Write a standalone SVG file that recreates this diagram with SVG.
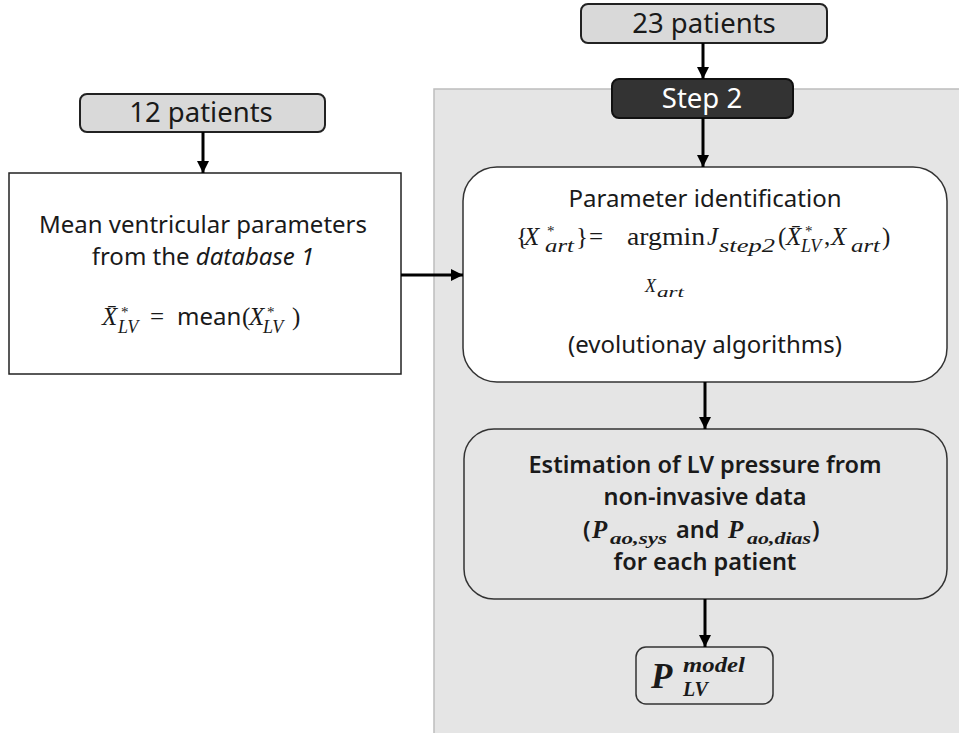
<svg xmlns="http://www.w3.org/2000/svg" width="959" height="733" viewBox="0 0 959 733">
<defs>
<style>
.t{font-family:"Noto Sans","Lato",sans-serif;fill:#1a1a1a}
.h{font-size:27.5px}
.b{font-size:24px}
.bd{font-size:23.5px;font-weight:600}
.m{font-family:"Liberation Serif","DejaVu Serif",serif;fill:#1a1a1a;font-size:25px}
.i{font-style:italic}
.sup{font-size:15px;font-style:normal}
.sub{font-size:18px;font-style:italic}
.conn line{stroke:#000;stroke-width:3;marker-end:url(#ah)}
</style>
<marker id="ah" markerUnits="userSpaceOnUse" markerWidth="14" markerHeight="14" refX="12" refY="6" orient="auto">
<path d="M0,0 L12,6 L0,12 Z" fill="#000"/>
</marker>
</defs>
<rect width="959" height="733" fill="#fff"/>
<g id="panel">
<rect x="434" y="89" width="530" height="660" fill="#e5e5e5" stroke="#bdbdbd" stroke-width="1.5"/>
</g>
<g id="n23">
<rect x="581" y="4" width="246" height="39" rx="7" fill="#d9d9d9" stroke="#222" stroke-width="2"/>
<text class="t h" x="704" y="33" text-anchor="middle">23 patients</text>
</g>
<g id="step2">
<rect x="612" y="79" width="181" height="39" rx="7" fill="#333" stroke="#111" stroke-width="2"/>
<text class="t h" x="702" y="108" text-anchor="middle" style="fill:#fff">Step 2</text>
</g>
<g id="n12">
<rect x="80" y="94" width="245" height="38" rx="7" fill="#d9d9d9" stroke="#222" stroke-width="2"/>
<text class="t h" x="201" y="122" text-anchor="middle">12 patients</text>
</g>
<g id="mean">
<rect x="9" y="173" width="392" height="201" fill="#fff" stroke="#222" stroke-width="1.5"/>
<text class="t b" x="203" y="233" text-anchor="middle">Mean ventricular parameters</text>
<text class="t b" x="203" y="265" text-anchor="middle">from the <tspan font-style="italic">database 1</tspan></text>
<text class="m"><tspan class="i" x="102" y="325">X̄</tspan><tspan class="sup" x="121" y="317">*</tspan><tspan class="sub" x="118" y="333">LV</tspan><tspan x="150" y="325">=</tspan><tspan x="242" y="325">(</tspan><tspan class="i" x="249" y="325">X</tspan><tspan class="sup" x="267" y="317">*</tspan><tspan class="sub" x="263" y="333">LV</tspan><tspan x="292" y="325">)</tspan></text>
<text class="t b" x="177" y="325">mean</text>
</g>
<g id="param">
<rect x="463" y="167" width="484" height="215" rx="34" fill="#fff" stroke="#333" stroke-width="1.5"/>
<text class="t b" x="705" y="207" text-anchor="middle">Parameter identification</text>
<text class="m"><tspan x="516" y="245">{</tspan><tspan class="i" x="524" y="245">X</tspan><tspan class="sup" x="547" y="236">*</tspan><tspan class="sub" x="545" y="252" textLength="29" lengthAdjust="spacingAndGlyphs">art</tspan><tspan x="576" y="245">}</tspan><tspan x="589" y="245">=</tspan><tspan x="627" y="245" textLength="78" lengthAdjust="spacingAndGlyphs">argmin</tspan><tspan class="i" x="707" y="245">J</tspan><tspan class="sub" x="719" y="252" textLength="56" lengthAdjust="spacingAndGlyphs">step2</tspan><tspan x="778" y="245">(</tspan><tspan class="i" x="786" y="245">X̄</tspan><tspan class="sup" x="805" y="236">*</tspan><tspan class="sub" x="801" y="252">LV</tspan><tspan x="824" y="245">,</tspan><tspan class="i" x="831" y="245">X</tspan><tspan class="sub" x="851" y="252" textLength="29" lengthAdjust="spacingAndGlyphs">art</tspan><tspan x="882" y="245">)</tspan></text>
<text class="m i"><tspan x="645" y="292" font-size="18">X</tspan><tspan x="657" y="297" font-size="15" textLength="27" lengthAdjust="spacingAndGlyphs">art</tspan></text>
<text class="t b" x="705" y="353" text-anchor="middle">(evolutionay algorithms)</text>
</g>
<g id="estim">
<rect x="464" y="429" width="483" height="170" rx="30" fill="#e5e5e5" stroke="#333" stroke-width="1.5"/>
<text class="t bd" x="705" y="473" text-anchor="middle">Estimation of LV pressure from</text>
<text class="t bd" x="705" y="505" text-anchor="middle">non-invasive data</text>
<text class="t bd"><tspan x="583" y="538">(</tspan><tspan x="676" y="538">and</tspan><tspan x="812" y="538">)</tspan></text>
<text class="m i" font-weight="bold"><tspan x="592" y="538">P</tspan><tspan x="610" y="544" font-size="17" textLength="57" lengthAdjust="spacingAndGlyphs">ao,sys</tspan><tspan x="728" y="538">P</tspan><tspan x="747" y="544" font-size="17" textLength="64" lengthAdjust="spacingAndGlyphs">ao,dias</tspan></text>
<text class="t bd" x="705" y="570" text-anchor="middle">for each patient</text>
</g>
<g id="plv">
<rect x="636" y="647" width="137" height="57" rx="10" fill="#e5e5e5" stroke="#333" stroke-width="1.5"/>
<text class="m i" font-weight="bold"><tspan x="651" y="688" font-size="35">P</tspan><tspan x="683" y="672" font-size="21" textLength="62" lengthAdjust="spacingAndGlyphs">model</tspan><tspan x="683" y="696" font-size="20">LV</tspan></text>
</g>
<g class="conn" id="connectors">
<line x1="703" y1="43" x2="703" y2="79"/>
<line x1="703" y1="118" x2="703" y2="167"/>
<line x1="203" y1="132" x2="203" y2="173"/>
<line x1="401" y1="275" x2="463" y2="275"/>
<line x1="705" y1="382" x2="705" y2="429"/>
<line x1="705" y1="599" x2="705" y2="647"/>
</g>
</svg>
